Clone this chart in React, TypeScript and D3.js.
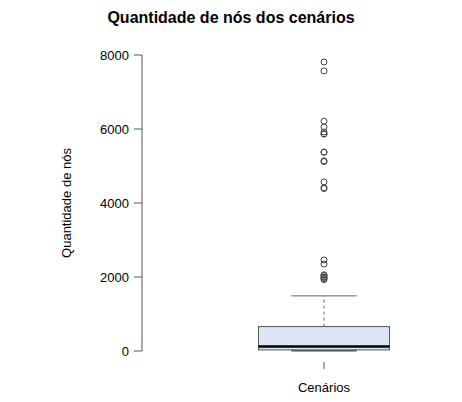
import React from "react";
import * as d3 from "d3";

const category = "Cenários";
const title = "Quantidade de nós dos cenários";
const yLabel = "Quantidade de nós";
const yTicks = [0, 2000, 4000, 6000, 8000];
// boxplot statistics: lower whisker, Q1, median, Q3, upper whisker
const boxStats = [5, 30, 120, 660, 1490];
const outliers = [
  7810, 7570, 6210, 6050, 5920, 5870, 5860, 5380, 5370, 5140, 5120, 4570, 4410,
  4390, 2460, 2350, 2060, 2040, 2000, 1990, 1960, 1930,
];

export default function App() {
  const W = 462;
  const H = 402;
  const y = d3.scaleLinear().domain([0, 8000]).range([351, 55]);
  const x = d3.scaleLinear().domain([0.5, 1.5]).range([142, 506]);
  const cx = x(1);
  const boxHalf = x(1.18) - x(1);
  const capHalf = boxHalf / 2;
  const [lo, q1, med, q3, hi] = boxStats;
  const font = "'Liberation Sans', Arial, Helvetica, sans-serif";
  return (
    <svg width={W} height={H} style={{ position: "absolute", left: 0, top: 0 }} fontFamily={font}>
      <rect width={W} height={H} fill="#fff" />
      <text x={231} y={23} textAnchor="middle" fontWeight="bold" fontSize={16} fill="#000">
        {title}
      </text>
      {/* y axis */}
      <line x1={142} x2={142} y1={y(0)} y2={y(8000)} stroke="#555" strokeWidth={1} />
      {yTicks.map((t) => (
        <g key={t}>
          <line x1={134} x2={142} y1={y(t)} y2={y(t)} stroke="#555" />
          <text x={129} y={y(t) + 4.5} textAnchor="end" fontSize={13} fill="#000">
            {t}
          </text>
        </g>
      ))}
      <text
        transform={`translate(71,${(y(0) + y(8000)) / 2}) rotate(-90)`}
        textAnchor="middle"
        fontSize={13}
        fill="#000"
      >
        {yLabel}
      </text>
      {/* x axis tick */}
      <line x1={cx} x2={cx} y1={362} y2={369} stroke="#555" />
      <text x={cx} y={392} textAnchor="middle" fontSize={13} fill="#000">
        {category}
      </text>
      {/* whiskers */}
      <line x1={cx} x2={cx} y1={y(q3)} y2={y(hi)} stroke="#666" strokeDasharray="3,3" />
      <line x1={cx} x2={cx} y1={y(q1)} y2={y(lo)} stroke="#666" strokeDasharray="3,3" />
      <line x1={cx - capHalf} x2={cx + capHalf} y1={y(hi)} y2={y(hi)} stroke="#666" />
      <line x1={cx - capHalf} x2={cx + capHalf} y1={y(lo)} y2={y(lo)} stroke="#555" strokeWidth={1.5} />
      {/* box */}
      <rect
        x={cx - boxHalf}
        y={y(q3)}
        width={2 * boxHalf}
        height={y(q1) - y(q3)}
        fill="#dbe5f6"
        stroke="#555"
      />
      <line x1={cx - boxHalf} x2={cx + boxHalf} y1={y(med)} y2={y(med)} stroke="#000" strokeWidth={2.5} />
      {/* outliers */}
      {outliers.map((v, i) => (
        <circle key={i} cx={cx} cy={y(v)} r={3} fill="none" stroke="#444" strokeWidth={1} />
      ))}
    </svg>
  );
}
